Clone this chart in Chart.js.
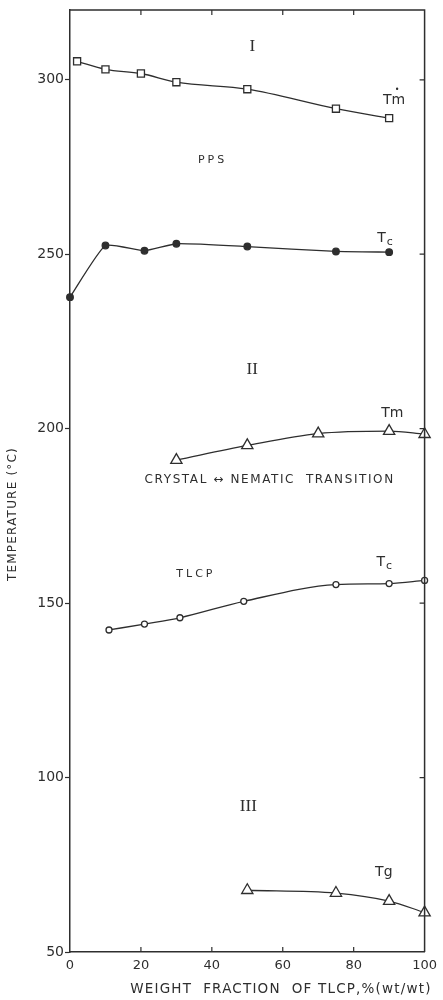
<!DOCTYPE html>
<html>
<head>
<meta charset="utf-8">
<script src="https://cdn.jsdelivr.net/npm/chart.js@4/dist/chart.umd.min.js"></script>
<style>
  html, body { margin: 0; padding: 0; background: #fff; }
  #wrap { width: 443px; height: 1000px; position: relative; }
</style>
</head>
<body>
<div id="wrap"><canvas id="c" width="443" height="1000"></canvas></div>
<script>
// Phase diagram of PPS / TLCP blends: transition temperatures vs TLCP content
const ppsTmX  = [2, 10, 20, 30, 50, 75, 90];
const ppsTmY  = [305.3, 303, 301.8, 299.3, 297.3, 291.7, 289];
const ppsTcX  = [0, 10, 21, 30, 50, 75, 90];
const ppsTcY  = [237.7, 252.5, 251, 253, 252.2, 250.8, 250.6];
const tlcpTmX = [30, 50, 70, 90, 100];
const tlcpTmY = [191, 195.2, 198.6, 199.3, 198.4];
const tlcpTcX = [11, 21, 31, 49, 75, 90, 100];
const tlcpTcY = [142.3, 144, 145.8, 150.5, 155.3, 155.6, 156.5];
const tlcpTgX = [50, 75, 90, 100];
const tlcpTgY = [67.7, 66.9, 64.6, 61.3];

const xTicks = [0, 20, 40, 60, 80, 100];
const yTicks = [50, 100, 150, 200, 250, 300];

const xTitle = 'WEIGHT  FRACTION  OF TLCP,%(wt/wt)';
const yTitle = 'TEMPERATURE (\u00B0C)';

const INK = '#2e2e2e';

function pts(xs, ys) { return xs.map((x, i) => ({ x: x, y: ys[i] })); }

function series(xs, ys, style, radius, fill, smooth) {
  const ds = {
    data: pts(xs, ys),
    showLine: true,
    borderColor: INK,
    borderWidth: 1.3,
    pointStyle: style,
    pointRadius: radius,
    pointBackgroundColor: fill,
    pointBorderColor: INK,
    pointBorderWidth: 1.3,
    clip: false
  };
  if (smooth === undefined) ds.cubicInterpolationMode = 'monotone';
  else ds.tension = smooth;
  return ds;
}

// Region labels and curve names, placed in data coordinates
const notes = [
  { text: 'I',   x: 51.4, y: 309.5, font: '17px "Liberation Serif"', spacing: 0 },
  { text: 'II',  x: 51.4, y: 217,   font: '17px "Liberation Serif"', spacing: 0 },
  { text: 'III', x: 50.3, y: 91.8,  font: '17px "Liberation Serif"', spacing: 0 },
  { text: 'PPS', x: 40.2, y: 277,   font: '11px "DejaVu Sans"', spacing: 3 },
  { text: 'TLCP', x: 35.5, y: 158.4, font: '11px "DejaVu Sans"', spacing: 3 },
  { text: 'CRYSTAL \u2194 NEMATIC  TRANSITION', x: 56.3, y: 185.3, font: '12px "DejaVu Sans"', spacing: 1.6 },
  { text: 'Tg',  x: 88.5, y: 72.7,  font: '14px "DejaVu Sans"', spacing: 0 },
  { text: 'Tm',  x: 90.9, y: 204.5, font: '14px "DejaVu Sans"', spacing: 0 }
];
// Names with a subscript or a mark above
const subNotes = [
  { main: 'T', sub: 'c', x: 89.6, y: 254.6 },
  { main: 'T', sub: 'c', x: 89.4, y: 161.8 }
];
const tm0 = { x: 91.4, y: 294.2 };

function drawText(ctx, s, x, y, font, spacing, align) {
  ctx.font = font;
  ctx.letterSpacing = spacing + 'px';
  ctx.textAlign = align || 'center';
  ctx.textBaseline = 'middle';
  ctx.fillText(s, x, y);
  ctx.letterSpacing = '0px';
}

const framePlugin = {
  id: 'frame',
  afterDraw(chart) {
    const ctx = chart.ctx;
    const a = chart.chartArea;
    const xs = chart.scales.x, ys = chart.scales.y;
    ctx.save();
    ctx.strokeStyle = INK;
    ctx.lineWidth = 1.5;
    // top and right edges of the frame
    ctx.beginPath();
    ctx.moveTo(a.left, a.top); ctx.lineTo(a.right, a.top); ctx.lineTo(a.right, a.bottom);
    ctx.stroke();
    // inward ticks on top, bottom and right
    ctx.lineWidth = 1.2;
    ctx.beginPath();
    xTicks.slice(1, -1).forEach(v => {
      const px = xs.getPixelForValue(v);
      ctx.moveTo(px, a.top); ctx.lineTo(px, a.top + 5);
      ctx.moveTo(px, a.bottom); ctx.lineTo(px, a.bottom - 5);
    });
    yTicks.slice(1).forEach(v => {
      const py = ys.getPixelForValue(v);
      ctx.moveTo(a.right, py); ctx.lineTo(a.right - 5, py);
    });
    ctx.stroke();

    ctx.fillStyle = INK;
    notes.forEach(n => {
      drawText(ctx, n.text, xs.getPixelForValue(n.x), ys.getPixelForValue(n.y), n.font, n.spacing);
    });
    subNotes.forEach(n => {
      const px = xs.getPixelForValue(n.x), py = ys.getPixelForValue(n.y);
      drawText(ctx, n.main, px - 2, py, '14px "DejaVu Sans"', 0, 'right');
      drawText(ctx, n.sub, px - 1, py + 4, '11px "DejaVu Sans"', 0, 'left');
    });
    {
      const px = xs.getPixelForValue(tm0.x), py = ys.getPixelForValue(tm0.y);
      drawText(ctx, 'Tm', px, py, '14px "DejaVu Sans"', 0);
      drawText(ctx, '\u2022', px + 3, py - 10, '8px "DejaVu Sans"', 0);
    }

    // axis titles
    drawText(ctx, xTitle, 281, 989, '13.5px "DejaVu Sans"', 1.2);
    ctx.translate(13, 514);
    ctx.rotate(-Math.PI / 2);
    drawText(ctx, yTitle, 0, 0, '12px "DejaVu Sans"', 1.2);
    ctx.restore();
  }
};

new Chart(document.getElementById('c'), {
  type: 'scatter',
  data: {
    datasets: [
      series(ppsTmX, ppsTmY, 'rect', 5, '#fff'),
      series(ppsTcX, ppsTcY, 'circle', 3.3, INK, 0.15),
      series(tlcpTmX, tlcpTmY, 'triangle', 6.5, '#fff'),
      series(tlcpTcX, tlcpTcY, 'circle', 3, '#fff'),
      series(tlcpTgX, tlcpTgY, 'triangle', 6.5, '#fff')
    ]
  },
  options: {
    responsive: false,
    animation: false,
    devicePixelRatio: 1,
    layout: { padding: { top: 10, right: 9, left: 0, bottom: 0 } },
    plugins: { legend: { display: false }, tooltip: { enabled: false } },
    scales: {
      x: {
        type: 'linear', min: 0, max: 100,
        afterBuildTicks: s => { s.ticks = xTicks.map(v => ({ value: v })); },
        afterFit: s => { s.height = 48; },
        grid: { drawOnChartArea: false, drawTicks: false },
        border: { display: true, color: INK, width: 1.5 },
        ticks: { color: INK, padding: 6, font: { family: 'DejaVu Sans', size: 13 } }
      },
      y: {
        type: 'linear', min: 50, max: 320,
        afterBuildTicks: s => { s.ticks = yTicks.map(v => ({ value: v })); },
        afterFit: s => { s.width = 70; },
        grid: { drawOnChartArea: false, drawTicks: true, tickLength: 5, tickColor: INK, tickWidth: 1.2 },
        border: { display: true, color: INK, width: 1.5 },
        ticks: { color: INK, padding: 1, font: { family: 'DejaVu Sans', size: 14 } }
      }
    }
  },
  plugins: [framePlugin]
});
</script>
</body>
</html>
